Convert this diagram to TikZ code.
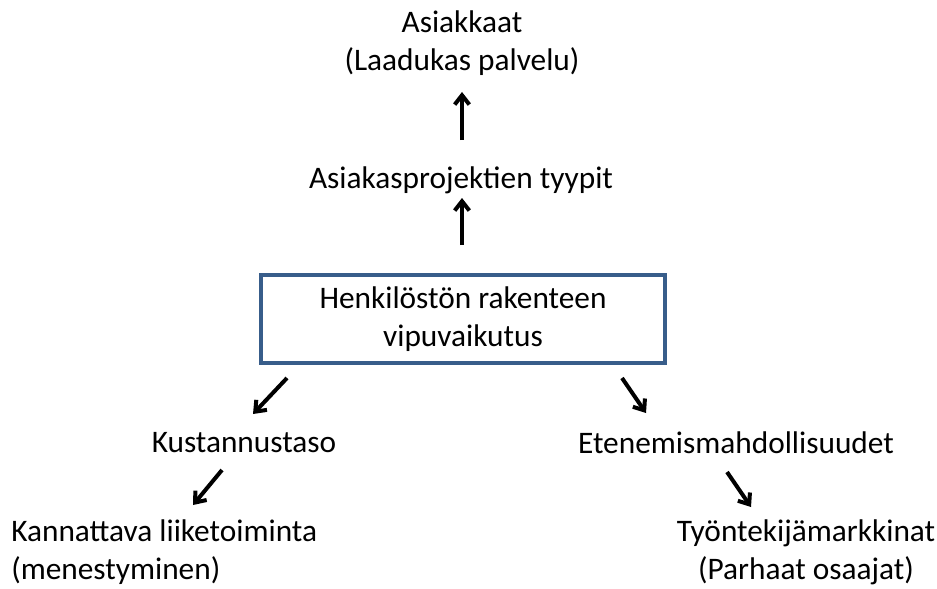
\documentclass[tikz,border=0pt]{standalone}
\usepackage{fontspec}
\setmainfont{Carlito}
\usepackage{xcolor}
\usetikzlibrary{arrows.meta}
\definecolor{boxblue}{RGB}{56,93,138}

\begin{document}
\begin{tikzpicture}[x=0.75pt, y=-0.75pt,
    every node/.style={font=\fontsize{23.5}{28.5}\selectfont, inner sep=0pt},
    arr/.style={-{Straight Barb[length=7pt,width=11pt]}, line width=3pt},
    leverbox/.style={draw=boxblue, line width=2.6pt, minimum width=303pt, minimum height=66pt, align=center}]
    % Fix the page size
    \useasboundingbox (0,0) rectangle (937,588);

    % Top: customers and project types
    \node[align=center] (asiakkaat) at (462,43) {Asiakkaat\\(Laadukas palvelu)};
    \node (tyypit) at (461,180) {Asiakasprojektien tyypit};

    % Central box
    \node[leverbox] (vipu) at (463,319) {Henkilöstön rakenteen\\vipuvaikutus};

    % Lower level
    \node (kustannus) at (244,443) {Kustannustaso};
    \node (etene) at (736,443) {Etenemismahdollisuudet};
    \node[align=left, anchor=west] (kannattava) at (11,552) {Kannattava liiketoiminta\\(menestyminen)};
    \node[align=center] (markkinat) at (806,552) {Työntekijämarkkinat\\(Parhaat osaajat)};

    % Arrow end points
    \coordinate (a1) at (462,140); \coordinate (b1) at (462,92);
    \coordinate (a2) at (462,245); \coordinate (b2) at (462,198);
    \coordinate (a3) at (287,378); \coordinate (b3) at (253,414);
    \coordinate (a4) at (622,378); \coordinate (b4) at (646,413);
    \coordinate (a5) at (222,470); \coordinate (b5) at (193,505);
    \coordinate (a6) at (727,472); \coordinate (b6) at (751,507);

    % Arrows
    \foreach \n in {1,...,6}
        \draw[arr] (a\n) -- (b\n);
\end{tikzpicture}
\end{document}
